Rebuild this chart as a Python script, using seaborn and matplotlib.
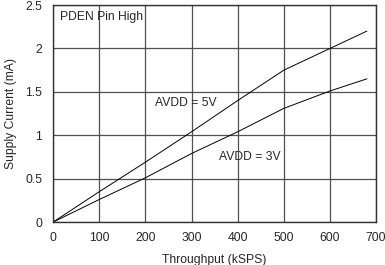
import matplotlib
matplotlib.use("Agg")
import matplotlib.pyplot as plt
import seaborn as sns
import pandas as pd

throughput = [0, 100, 200, 300, 400, 500, 600, 680]
avdd_5v = [0, 0.35, 0.69, 1.04, 1.40, 1.75, 2.00, 2.20]
avdd_3v = [0, 0.26, 0.51, 0.79, 1.04, 1.31, 1.51, 1.65]
x_ticks = [0, 100, 200, 300, 400, 500, 600, 700]
y_ticks = [0, 0.5, 1, 1.5, 2, 2.5]
y_tick_labels = ["0", "0.5", "1", "1.5", "2", "2.5"]

df = pd.DataFrame({
    "Throughput": throughput * 2,
    "Current": avdd_5v + avdd_3v,
    "Supply": ["AVDD = 5V"] * len(throughput) + ["AVDD = 3V"] * len(throughput),
})

sns.set_style("white")
plt.rcParams["font.family"] = ["Liberation Sans", "DejaVu Sans"]

fs = 8.7
fig = plt.figure(figsize=(3.85, 2.65), dpi=100)
ax = fig.add_axes([0.138, 0.162, 0.839, 0.819])

sns.lineplot(data=df, x="Throughput", y="Current", hue="Supply",
             palette=["black", "black"], linewidth=0.7, legend=False, ax=ax)

ax.set_xlim(0, 700)
ax.set_ylim(0, 2.5)
ax.set_xticks(x_ticks)
ax.set_yticks(y_ticks)
ax.set_yticklabels(y_tick_labels)
ax.tick_params(axis="x", length=0, labelsize=fs, pad=7)
ax.tick_params(axis="y", length=0, labelsize=fs, pad=8)
ax.grid(True, color="#505050", linewidth=0.9)
ax.set_axisbelow(True)
for s in ax.spines.values():
    s.set_color("#333333")
    s.set_linewidth(1.0)

ax.set_xlabel("Throughput (kSPS)", fontsize=fs, labelpad=7)
ax.set_ylabel("Supply Current (mA)", fontsize=fs, labelpad=6)

ax.text(15, 2.36, "PDEN Pin High", fontsize=fs, va="center", ha="left")
ax.text(287, 1.37, "AVDD = 5V", fontsize=fs, va="center", ha="center")
ax.text(427, 0.75, "AVDD = 3V", fontsize=fs, va="center", ha="center")

fig.savefig("out.png", dpi=100)
